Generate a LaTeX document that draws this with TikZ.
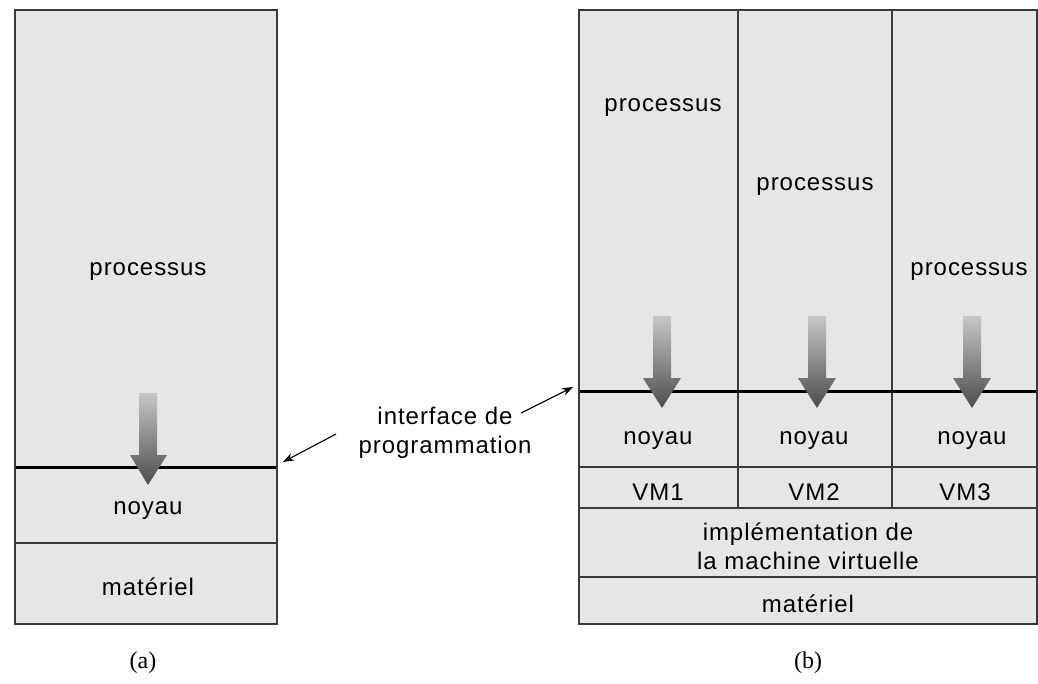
\documentclass[tikz,border=0pt]{standalone}
\usepackage{fontspec}
\setmainfont{Liberation Sans}[LetterSpace=4]
\newfontfamily\capfont{Liberation Serif}
\usetikzlibrary{arrows.meta}
\definecolor{cellfill}{HTML}{E6E6E6}
\definecolor{edge}{HTML}{3A3A3A}
\begin{document}
\begin{tikzpicture}[x=1pt,y=-1pt,
  cell/.style={fill=cellfill,draw=edge,line width=1.6pt},
  divider/.style={draw=edge,line width=1.4pt},
  apiline/.style={draw=black,line width=3pt},
  lbl/.style={font=\fontsize{24}{29}\selectfont,inner sep=0pt,align=center,yshift=-4pt},
  figcap/.style={font=\capfont\fontsize{24}{29}\selectfont,inner sep=0pt,yshift=-2pt},
  callout/.style={line width=1.1pt,-{Stealth[length=11pt,width=8pt]}},
  gradarrow/.style={top color=black!22,bottom color=black!70,draw=none}]
\useasboundingbox (0,0) rectangle (1038,683);

% ---------- (a) ----------
\fill[cellfill] (15,10) rectangle (277,624);
\draw[divider] (15,543) -- (277,543);
\draw[apiline] (15,467) -- (277,467);
\shade[gradarrow] (139,393) -- (157,393) -- (157,455) -- (167,455) -- (148,485) -- (130,455) -- (139,455) -- cycle;
\draw[cell,fill=none] (15,10) rectangle (277,624);
\coordinate (aR) at (277,467);
\node[lbl] (aproc) at (148,268) {processus};
\node[lbl] (anoy) at (148,507) {noyau};
\node[lbl] (amat) at (148,583) {matériel};
\node[figcap] (capA) at (143,661) {(a)};

% ---------- (b) ----------
\fill[cellfill] (579,10) rectangle (1037,624);
\draw[divider] (738,10) -- (738,508);
\draw[divider] (892,10) -- (892,508);
\draw[divider] (579,467) -- (1037,467);
\draw[divider] (579,508) -- (1037,508);
\draw[divider] (579,577) -- (1037,577);
\draw[apiline] (579,391) -- (1037,391);
\foreach \c in {662,817,972}{
  \shade[gradarrow] (\c-9,316) -- (\c+9,316) -- (\c+9,378) -- (\c+19,378) -- (\c,408) -- (\c-19,378) -- (\c-9,378) -- cycle;
}
\draw[cell,fill=none] (579,10) rectangle (1037,624);
\coordinate (bL) at (579,391);
\node[lbl] (bproc1) at (663,104) {processus};
\node[lbl] (bproc2) at (815,183) {processus};
\node[lbl] (bproc3) at (969,268) {processus};
\node[lbl] (bnoy1) at (658,437) {noyau};
\node[lbl] (bnoy2) at (814,437) {noyau};
\node[lbl] (bnoy3) at (972,437) {noyau};
\node[lbl] (vm1) at (658,488) {VM1};
\node[lbl] (vm2) at (814,488) {VM2};
\node[lbl] (vm3) at (965,488) {VM3};
\node[lbl] (impl) at (808,542) {implémentation de\\la machine virtuelle};
\node[lbl] (bmat) at (808,600) {matériel};
\node[figcap] (capB) at (808,661) {(b)};

% ---------- interface ----------
\node[lbl] (api) at (445,429) {interface de\\programmation};
\coordinate (s1) at (336,434);
\coordinate (s2) at (521,413);
\coordinate (t1) at (283,462);
\coordinate (t2) at (573,387);
\draw[callout] (s1) -- (t1);
\draw[callout] (s2) -- (t2);
\end{tikzpicture}
\end{document}
